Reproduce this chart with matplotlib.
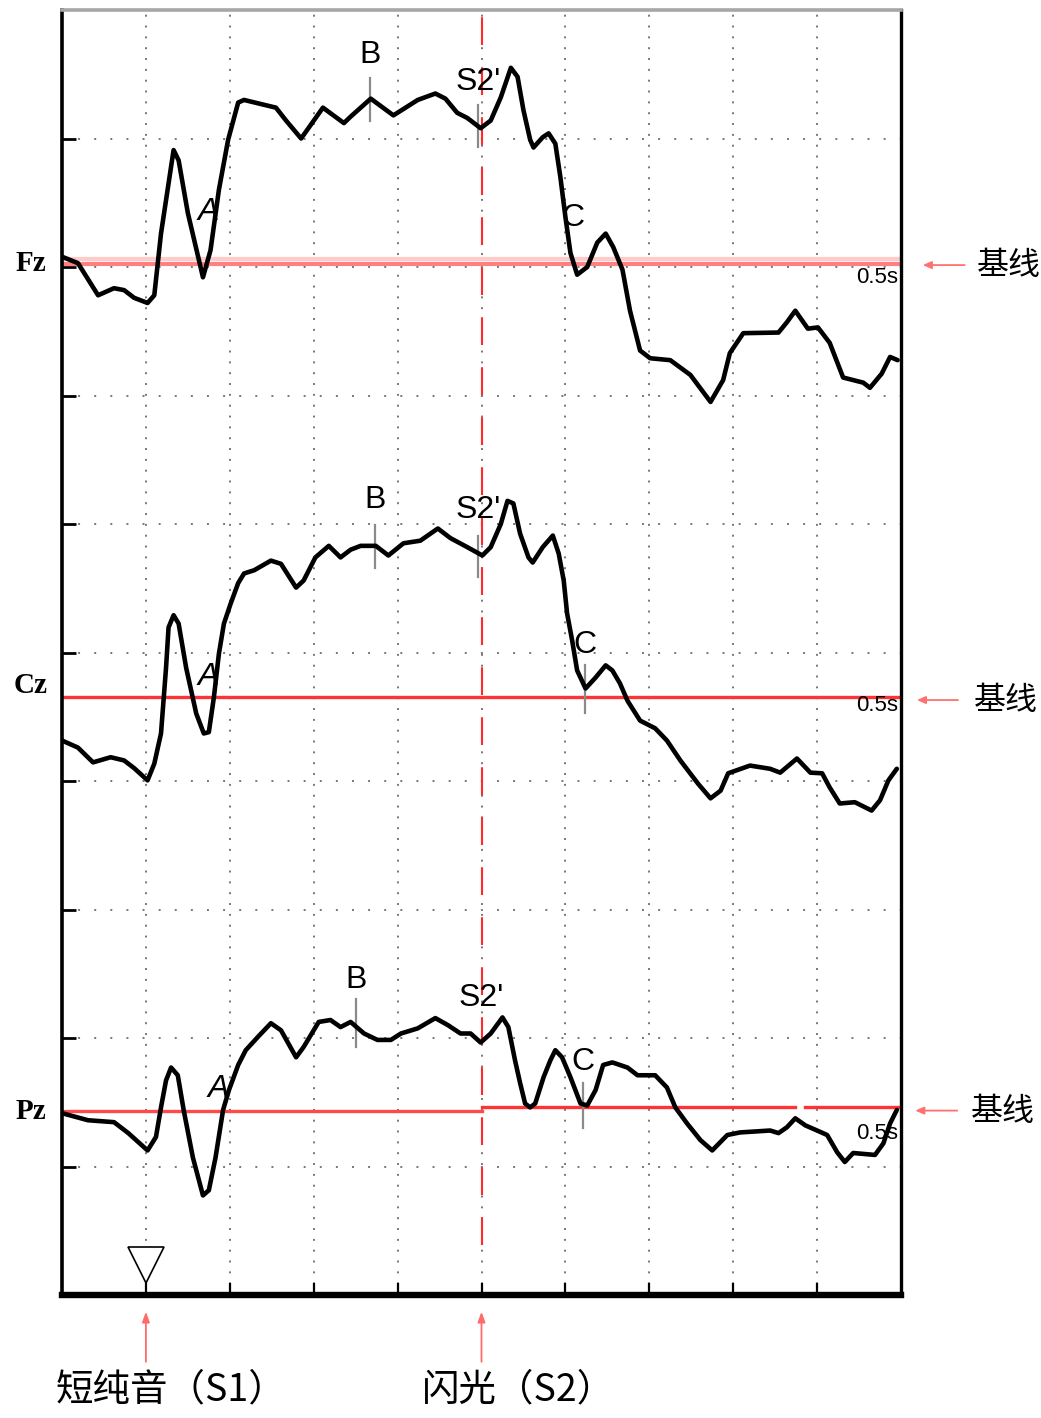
import matplotlib
matplotlib.use('Agg')
import matplotlib.pyplot as plt

plt.rcParams['lines.scale_dashes'] = False

# time axis in ms (S1 at 0 ms, S2 at 400 ms), amplitude in grid/10 units
fz_t = [-100, -81, -57, -38, -26, -14, 2, 10, 18, 33, 39, 50, 68, 77, 87, 98, 110, 117,
        155, 167, 185, 211, 236, 244, 268, 295, 324, 345, 357, 371, 383, 399, 411, 423,
        435, 443, 450, 458, 462, 473, 480, 488, 494, 500, 506, 514, 526, 538, 548, 557,
        568, 577, 589, 601, 625, 649, 673, 688, 696, 712, 754, 764, 774, 789, 801, 815,
        831, 855, 863, 877, 887, 896]
fz_v = [0.5, 0.0, -2.5, -1.95, -2.1, -2.7, -3.1, -2.5, 2.3, 8.8, 8.0, 3.9, -1.1, 1.0,
        5.7, 9.6, 12.5, 12.7, 12.1, 11.1, 9.7, 12.1, 10.9, 11.4, 12.8, 11.5, 12.7, 13.2,
        12.8, 11.7, 11.3, 10.5, 11.1, 12.9, 15.2, 14.5, 11.9, 9.6, 9.0, 9.8, 10.1, 9.3,
        6.7, 3.6, 0.8, -0.9, -0.3, 1.6, 2.3, 1.25, -0.5, -3.7, -6.8, -7.4, -7.55, -8.7,
        -10.8, -9.1, -7.0, -5.45, -5.4, -4.6, -3.7, -5.1, -5.0, -6.2, -8.9, -9.3, -9.7,
        -8.6, -7.3, -7.55]

cz_t = [-100, -81, -63, -42, -26, -14, 2, 10, 18, 24, 27, 33, 39, 48, 60, 69, 75, 81,
        87, 93, 101, 110, 117, 129, 149, 161, 179, 188, 202, 218, 232, 244, 256, 274,
        289, 307, 327, 348, 363, 383, 401, 411, 423, 431, 438, 446, 456, 461, 473, 485,
        492, 498, 502, 508, 514, 524, 536, 548, 556, 565, 574, 589, 607, 621, 637, 658,
        673, 685, 694, 720, 744, 756, 776, 792, 806, 815, 827, 845, 865, 875, 885, 895]
cz_v = [-3.35, -3.9, -5.05, -4.65, -4.9, -5.5, -6.45, -5.15, -2.8, 2.3, 5.45, 6.4, 5.75,
        2.3, -1.25, -2.8, -2.7, 0.0, 3.4, 5.75, 7.3, 8.9, 9.65, 9.9, 10.65, 10.4, 8.55,
        9.1, 10.9, 11.8, 10.9, 11.5, 11.8, 11.8, 11.05, 12.0, 12.2, 13.15, 12.4, 11.7,
        11.05, 11.7, 13.5, 15.3, 15.1, 12.75, 10.9, 10.5, 11.7, 12.6, 11.2, 9.1, 6.55,
        4.45, 2.1, 0.7, 1.55, 2.5, 2.1, 1.1, -0.25, -1.8, -2.4, -3.35, -4.9, -6.7, -7.85,
        -7.25, -5.9, -5.3, -5.55, -5.85, -4.75, -5.85, -5.9, -7.0, -8.25, -8.15, -8.8,
        -8.0, -6.45, -5.55]

pz_t = [-100, -69, -38, -21, 2, 12, 18, 24, 30, 38, 45, 56, 68, 75, 83, 92, 99, 110,
        119, 133, 149, 161, 179, 188, 206, 220, 232, 244, 260, 276, 292, 304, 324, 345,
        360, 375, 387, 399, 411, 425, 432, 440, 446, 452, 458, 464, 474, 482, 488, 496,
        506, 518, 526, 536, 545, 556, 574, 586, 607, 621, 631, 645, 661, 675, 693, 708,
        744, 754, 764, 774, 786, 800, 812, 824, 833, 843, 869, 879, 887, 895]
pz_v = [-0.15, -0.7, -0.85, -1.7, -3.05, -2.0, 0.3, 2.4, 3.4, 2.8, 0.1, -3.6, -6.55,
        -6.15, -3.6, 0.1, 1.65, 3.6, 4.75, 5.75, 6.85, 6.3, 4.2, 5.0, 6.95, 7.1, 6.55,
        6.95, 6.05, 5.55, 5.55, 6.05, 6.45, 7.25, 6.7, 6.05, 6.05, 5.35, 6.05, 7.3, 6.55,
        3.95, 2.2, 0.6, 0.3, 0.6, 2.65, 3.95, 4.75, 4.2, 2.65, 0.6, 0.45, 1.65, 3.6, 3.8,
        3.4, 2.8, 2.8, 1.85, 0.3, -0.95, -2.25, -3.05, -1.85, -1.65, -1.5, -1.7, -1.25,
        -0.55, -1.1, -1.5, -1.85, -3.2, -3.95, -3.25, -3.4, -2.5, -0.95, 0.1]

channels = ['Fz', 'Cz', 'Pz']
baselines = [80.3, 46.5, 14.3]
pz_late_base = 14.6
s1_time = 0
s2_time = 400

# component labels: (text, time, label height, tick top, tick bottom) relative to baseline
marks = {
    'Fz': [('A', 74, 4.0, None, None), ('B', 267, 16.2, 14.4, 11.1),
           ("S2'", 396, 14.1, 12.3, 9.0), ('C', 509, 3.5, None, None)],
    'Cz': [('A', 74, 1.6, None, None), ('B', 273, 15.4, 13.4, 10.1),
           ("S2'", 396, 14.6, 12.6, 9.4), ('C', 523, 4.1, 2.5, -1.2)],
    'Pz': [('A', 86, 1.7, None, None), ('B', 251, 10.2, 8.7, 5.0),
           ("S2'", 400, 8.8, None, None), ('C', 521, 3.8, 2.2, -1.3)],
}
dur_label_y = [-1.1, -0.6, -1.7]

W, H = 1041, 1418
fig = plt.figure(figsize=(W / 100, H / 100), dpi=100)
ax = fig.add_axes([62 / W, 1 - 1295 / H, (901 - 62) / W, (1295 - 10) / H])
ax.set_xlim(-100, 900)
ax.set_ylim(0, 100)

# dotted grid
for gx in range(0, 900, 100):
    ax.axvline(gx, color='#777777', lw=1.4, ls=(0, (1.4, 6.4)), dash_capstyle='butt', zorder=1)
for gy in range(10, 100, 10):
    ax.axhline(gy, color='#777777', lw=1.4, ls=(0, (1.4, 10.2)), dash_capstyle='butt', zorder=1)

ax.set_xticks(range(0, 900, 100))
ax.set_yticks(range(10, 100, 10))
ax.tick_params(axis='x', direction='in', length=9, width=1.6, labelbottom=False, color='black')
ax.tick_params(axis='y', direction='in', length=10, width=2.0, labelleft=False, color='black')

ax.spines['left'].set_linewidth(2.6)
ax.spines['right'].set_linewidth(2.4)
ax.spines['bottom'].set_linewidth(4.6)
ax.spines['top'].set_linewidth(2.6)
ax.spines['top'].set_color('#a6a6a6')

# baselines
ax.plot([-96, 900], [baselines[0] + 0.3] * 2, color='#ffcaca', lw=3.0, zorder=2)
ax.plot([-96, 900], [baselines[0] - 0.1] * 2, color='#ff8080', lw=3.0, zorder=2)
ax.plot([-100, 900], [baselines[1]] * 2, color='#ff3333', lw=2.4, zorder=2)
ax.plot([-100, s2_time], [baselines[2]] * 2, color='#ff4a4a', lw=2.4, zorder=2)
ax.plot([s2_time, 774], [pz_late_base] * 2, color='#ff3333', lw=2.4, zorder=2)
ax.plot([786, 900], [pz_late_base] * 2, color='#ff3333', lw=2.4, zorder=2)

# S2 onset marker
ax.plot([s2_time, s2_time], [3.9, 99.6], color='#ff2a2a', lw=1.5,
        ls=(0, (20, 16)), zorder=2)

for name, base, ylab in zip(channels, baselines, dur_label_y):
    ax.text(897, base + ylab, '0.5s', ha='right', va='center', fontsize=16,
            family='Liberation Sans', zorder=3)

traces = [(fz_t, fz_v), (cz_t, cz_v), (pz_t, pz_v)]
for (t, v), base in zip(traces, baselines):
    ax.plot(t, [base + a for a in v], color='black', lw=3.3,
            solid_joinstyle='round', solid_capstyle='round', zorder=5)

for name, base in zip(channels, baselines):
    for txt, t, ly, top, bot in marks[name]:
        ax.text(t, base + ly, txt, ha='center', va='center', fontsize=23,
                family='Liberation Sans', style='italic' if txt == 'A' else 'normal',
                zorder=6)
        if top is not None:
            ax.plot([t, t], [base + top, base + bot], color='#8a8a8a', lw=1.6, zorder=4)
    ax.text(-137, base + (0.9 if name == 'Cz' else 0.0), name, ha='center', va='center',
            fontsize=21, family='Liberation Serif', weight='bold', clip_on=False)

# right-hand baseline tags
cjk = ['Noto Sans CJK SC', 'DejaVu Sans']
tag_rows = [(baselines[0] - 0.15, 926, 976, 1029), (baselines[1] - 0.2, 919, 968, 1025),
            (baselines[2] + 0.05, 917, 967, 1021)]
for y, head, tail, tx in tag_rows:
    ax.annotate('', xy=(head, y), xytext=(tail, y), annotation_clip=False,
                arrowprops=dict(arrowstyle='-|>,head_length=0.5,head_width=0.22',
                                color='#ff7070', lw=1.3, shrinkA=0, shrinkB=0))
    ax.text(tx, y, '基线', ha='center', va='center', fontsize=23, family=cjk, clip_on=False)

# stimulus markers below the time axis
ax.plot([s1_time], [2.3], marker='v', markersize=26, markerfacecolor='white',
        markeredgecolor='black', markeredgewidth=1.2, zorder=6)
for st in (s1_time, s2_time):
    ax.annotate('', xy=(st, -1.3), xytext=(st, -5.2), annotation_clip=False,
                arrowprops=dict(arrowstyle='-|>,head_length=0.6,head_width=0.22',
                                color='#ff6a6a', lw=1.3, shrinkA=0, shrinkB=0))
ax.text(-108, -7.4, '短纯音（S1）', ha='left', va='center', fontsize=27, family=cjk,
        clip_on=False)
ax.text(329, -7.4, '闪光（S2）', ha='left', va='center', fontsize=27, family=cjk,
        clip_on=False)

fig.savefig('out.png', dpi=100, facecolor='white')
